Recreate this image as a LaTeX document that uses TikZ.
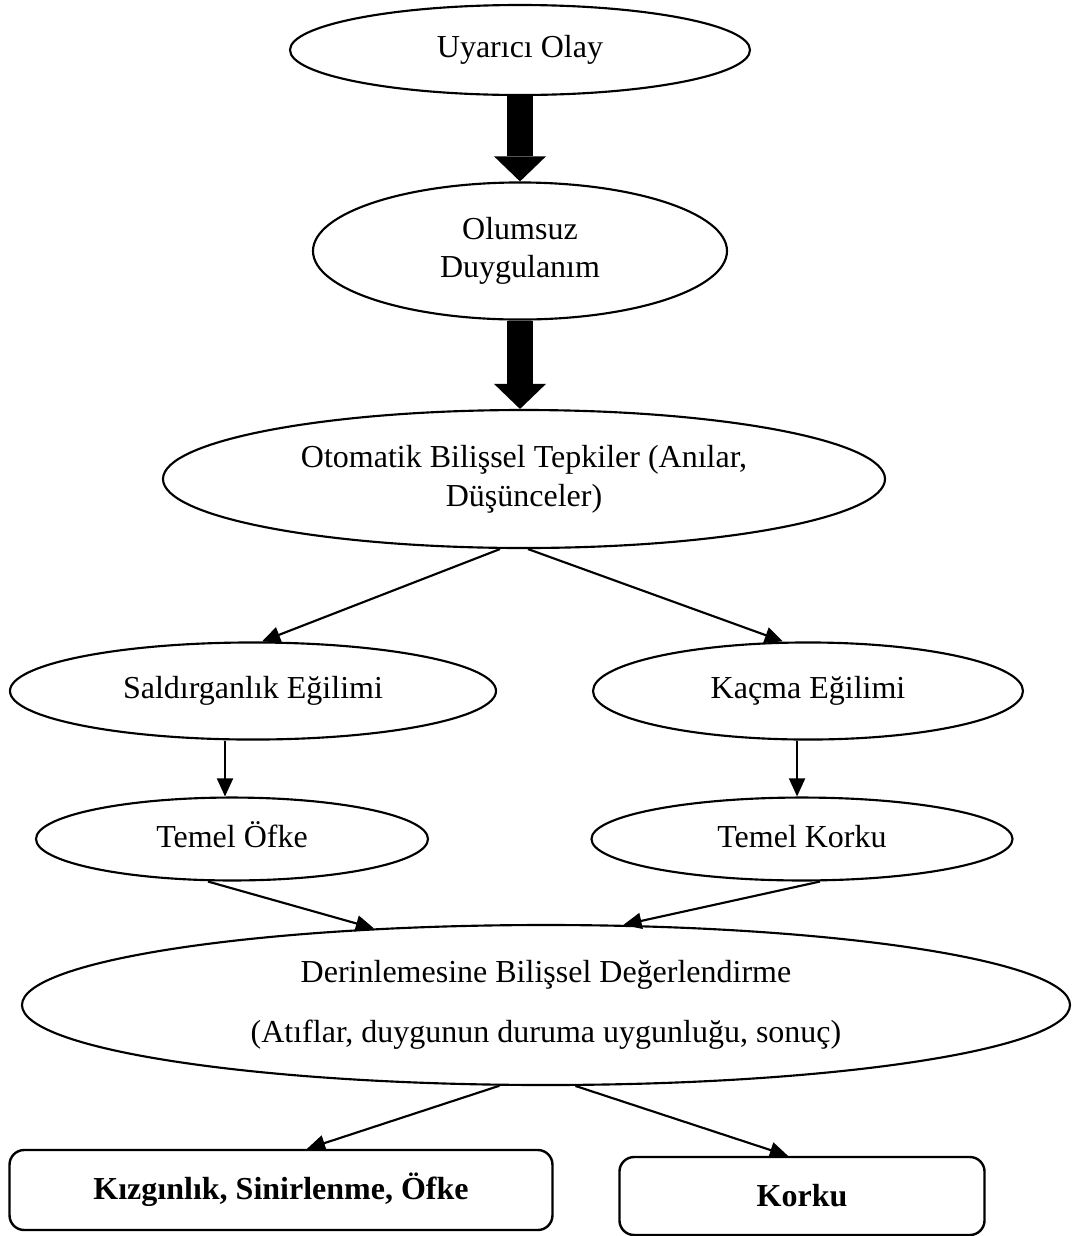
\documentclass[tikz,border=0pt]{standalone}
\usepackage{fontspec}
\setmainfont{Liberation Serif}
\usepackage{tikz}
\usetikzlibrary{shapes.geometric, arrows.meta, positioning}
\tikzset{
  oval/.style={ellipse, draw=black, line width=0.8pt, inner sep=0pt, align=center, font=\fontsize{12}{14.5}\selectfont},
  result/.style={rectangle, rounded corners=5.5pt, draw=black, line width=0.9pt, inner sep=0pt, align=center, font=\fontsize{12}{14.5}\selectfont\bfseries},
  bigarrow/.style={line width=9.4pt, -{Triangle[width=19.5pt, length=9.4pt, line width=0pt]}},
  arrow/.style={line width=0.8pt, -{Triangle[width=6pt, length=6.8pt]}}
}

\begin{document}
\begin{tikzpicture}[x=0.375pt, y=-0.375pt]
  \useasboundingbox (0,0) rectangle (1074,1236);
  \node (uyar) [oval, minimum width=172.5pt, minimum height=33.75pt] at (520,50) {Uyarıcı Olay};
  \node (olum) [oval, minimum width=155.25pt, minimum height=51.4pt] at (520,251) {Olumsuz\\Duygulanım};
  \node (otom) [oval, minimum width=270.75pt, minimum height=51.75pt] at (524,479) {Otomatik Bilişsel Tepkiler (Anılar,\\Düşünceler)};
  \node (sald) [oval, minimum width=182.25pt, minimum height=36.4pt] at (253,691) {Saldırganlık Eğilimi};
  \node (kacma) [oval, minimum width=161.25pt, minimum height=36.4pt] at (808,691) {Kaçma Eğilimi};
  \node (ofke) [oval, minimum width=147pt, minimum height=31.1pt, text height=9pt, text depth=3pt] at (232,839) {Temel Öfke};
  \node (korku) [oval, minimum width=157.9pt, minimum height=31.1pt, text height=9pt, text depth=3pt] at (802,839) {Temel Korku};
  \node (derin) [oval, minimum width=393pt, minimum height=60pt] at (546,1005) {Derinlemesine Bilişsel Değerlendirme\\[8pt](Atıflar, duygunun duruma uygunluğu, sonuç)};
  \node (kizgin) [result, minimum width=203.6pt, minimum height=30pt] at (281,1190) {Kızgınlık, Sinirlenme, Öfke};
  \node (korkusonuc) [result, minimum width=136.9pt, minimum height=29.25pt] at (802,1196) {Korku};

  \draw [bigarrow] (uyar.south) -- (olum.north);
  \draw [bigarrow] (olum.south) -- (olum.south |- otom.north);
  \draw [arrow] ([xshift=-9pt]otom.south) -- ([xshift=3.4pt]sald.north);
  \draw [arrow] ([xshift=1.5pt]otom.south) -- ([xshift=-9.4pt]kacma.north);
  \draw [arrow] ([xshift=-10.5pt]sald.south) -- ([xshift=-10.5pt]sald.south |- ofke.north);
  \draw [arrow] ([xshift=-4.1pt]kacma.south) -- ([xshift=-4.1pt]kacma.south |- korku.north);
  \draw [arrow] ([xshift=-9pt]ofke.south) -- (derin.156);
  \draw [arrow] ([xshift=6.75pt]korku.south) -- (derin.46);
  \draw [arrow] (derin.240) -- ([xshift=9.75pt]kizgin.north);
  \draw [arrow] (derin.290) -- ([xshift=-5.25pt]korkusonuc.north);
\end{tikzpicture}
\end{document}
